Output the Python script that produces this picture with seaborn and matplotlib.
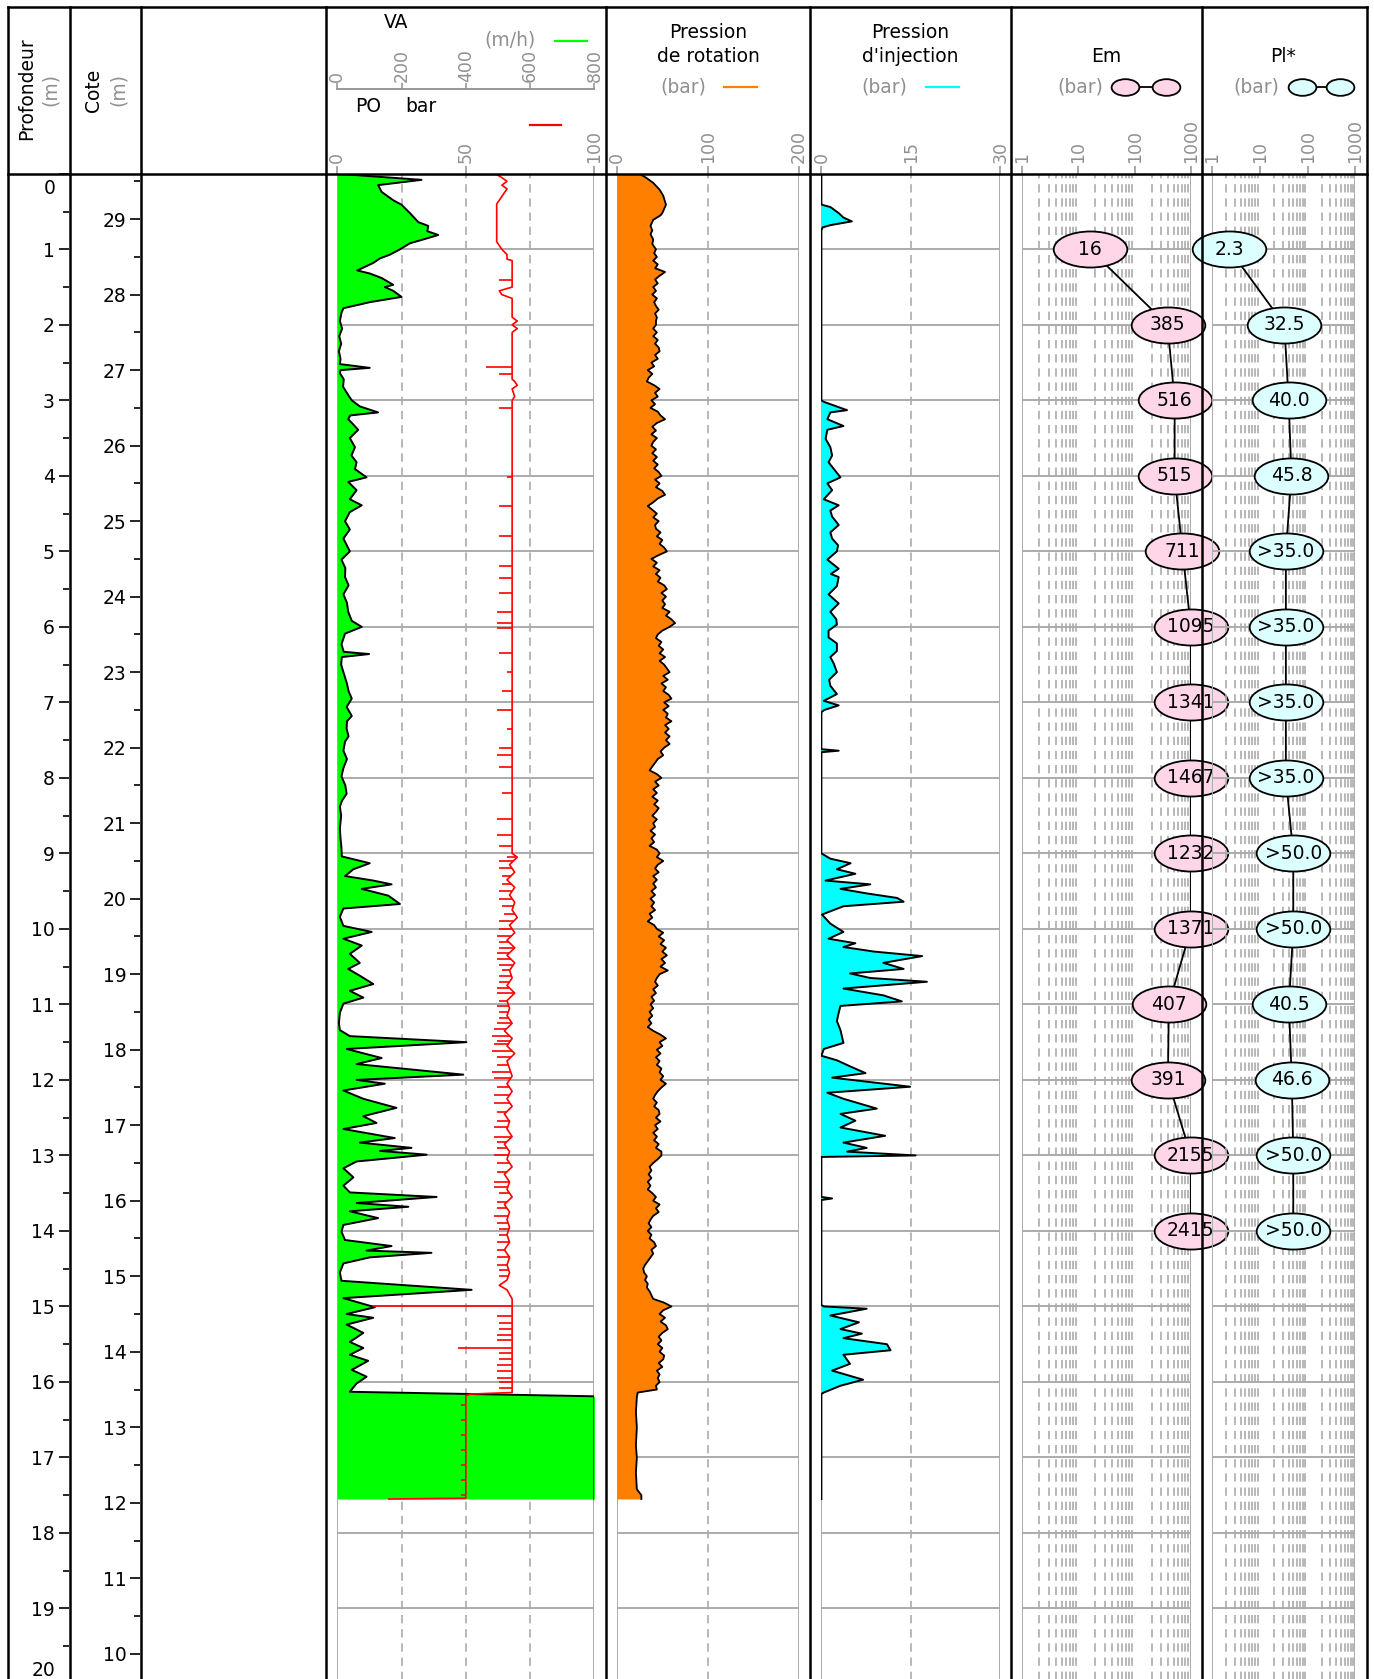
import numpy as np
import matplotlib
matplotlib.use("Agg")
import matplotlib.pyplot as plt
import seaborn as sns
from matplotlib.path import Path
from matplotlib.transforms import Affine2D
from matplotlib.ticker import MultipleLocator, NullFormatter, NullLocator

# -----------------------------
# DATA (read off the log)
# -----------------------------
cote_top = 29.6

va_depth = [0.00, 0.08, 0.15, 0.24, 0.35, 0.41, 0.52, 0.64, 0.69, 0.76, 0.81, 0.87, 0.92, 1.00, 1.07,
            1.12, 1.18, 1.28, 1.32, 1.38, 1.47, 1.50, 1.55, 1.63, 1.70, 1.78, 1.84, 1.95, 2.05, 2.15,
            2.25, 2.35, 2.45, 2.52, 2.57, 2.60, 2.64, 2.72, 2.82, 2.93, 3.00, 3.08, 3.16, 3.20, 3.25,
            3.32, 3.39, 3.50, 3.62, 3.73, 3.82, 3.91, 4.02, 4.08, 4.19, 4.31, 4.39, 4.48, 4.60, 4.71,
            4.83, 5.00, 5.11, 5.22, 5.34, 5.45, 5.57, 5.68, 5.80, 5.92, 6.00, 6.09, 6.23, 6.33, 6.36,
            6.40, 6.50, 6.60, 6.75, 6.85, 6.95, 7.06, 7.18, 7.25, 7.35, 7.45, 7.52, 7.64, 7.75, 7.87,
            7.98, 8.10, 8.21, 8.30, 8.38, 8.50, 8.67, 8.80, 8.93, 9.04, 9.13, 9.21, 9.30, 9.36, 9.41,
            9.47, 9.56, 9.67, 9.73, 9.84, 9.96, 10.04, 10.13, 10.22, 10.33, 10.45, 10.53, 10.62, 10.73,
            10.82, 10.91, 10.99, 11.11, 11.25, 11.34, 11.42, 11.50, 11.59, 11.71, 11.79, 11.93, 12.00,
            12.05, 12.14, 12.25, 12.37, 12.48, 12.57, 12.65, 12.77, 12.83, 12.90, 12.94, 12.99, 13.08,
            13.17, 13.29, 13.40, 13.49, 13.55, 13.63, 13.68, 13.74, 13.83, 13.92, 14.01, 14.12, 14.20,
            14.26, 14.29, 14.35, 14.43, 14.55, 14.66, 14.78, 14.89, 15.01, 15.10, 15.15, 15.24, 15.35,
            15.47, 15.55, 15.64, 15.72, 15.84, 15.93, 16.02, 16.13, 16.19, 17.55]
va_val = [0, 262, 127, 138, 174, 200, 226, 252, 283, 280, 314, 267, 226, 195, 164,
          133, 112, 62, 101, 138, 174, 148, 174, 200, 101, 19, 13, 8, 15, 6,
          12, 5, 10, 8, 101, 10, 8, 20, 18, 34, 45, 70, 127, 40, 34,
          50, 65, 39, 55, 44, 60, 55, 91, 34, 60, 39, 76, 39, 24, 39,
          19, 39, 13, 25, 24, 35, 19, 30, 34, 45, 76, 24, 13, 20, 99,
          14, 12, 19, 30, 35, 45, 29, 45, 30, 29, 35, 24, 19, 30, 19,
          13, 25, 29, 15, 8, 12, 8, 10, 13, 14, 101, 50, 24, 112, 169,
          76, 159, 195, 19, 8, 19, 107, 19, 76, 39, 70, 34, 70, 112,
          39, 81, 19, 8, 5, 8, 39, 402, 29, 138, 60, 392, 60,
          148, 19, 81, 184, 81, 122, 19, 179, 70, 231, 133, 278, 60,
          19, 50, 19, 39, 309, 60, 221, 39, 127, 19, 13, 24, 169,
          91, 293, 101, 19, 8, 13, 418, 19, 117, 29, 112, 29, 81,
          39, 81, 39, 96, 45, 91, 60, 39, 800, 800]

po_depth = [0.00, 0.01, 0.05, 0.10, 0.15, 0.20, 0.25, 0.30, 0.35, 0.40, 0.90, 0.95, 1.00, 1.07, 1.13,
            1.15, 1.50, 1.55, 1.60, 1.65, 1.90, 1.95, 2.00, 2.05, 2.10, 2.15, 2.72, 2.75, 2.80, 2.85,
            2.95, 3.00, 9.00, 9.05, 9.15, 9.25, 9.35, 9.45, 9.55, 9.65, 9.75, 9.85, 9.95, 10.05, 10.15,
            10.25, 10.35, 10.45, 10.55, 10.65, 10.75, 10.85, 10.95, 11.05, 11.15, 11.25, 11.35, 11.45,
            11.55, 11.65, 11.75, 11.85, 11.95, 12.05, 12.15, 12.25, 12.35, 12.45, 12.55, 12.65, 12.75,
            12.85, 12.95, 13.05, 13.15, 13.25, 13.35, 13.45, 13.55, 13.65, 13.75, 13.85, 13.95, 14.05,
            14.15, 14.25, 14.35, 14.45, 14.55, 14.65, 14.72, 14.78, 14.90, 16.14, 16.16, 16.18, 17.54,
            17.55]
po_val = [0, 62, 64, 66, 64, 66, 65, 64, 63, 62, 62, 63, 64, 66, 66,
          68, 68, 63, 64, 68, 68, 70, 68, 70, 68, 68, 68, 69, 70, 68,
          69, 68, 68, 70, 67, 69, 66, 69, 67, 69, 68, 70, 67, 69, 66,
          69, 66, 69, 67, 68, 66, 69, 66, 67, 66, 68, 65, 68,
          66, 69, 66, 67, 68, 66, 68, 66, 68, 65, 67, 66, 68,
          65, 67, 66, 68, 65, 67, 66, 68, 65, 67, 66, 67, 66,
          67, 65, 67, 66, 67, 66, 63, 66, 68, 68, 52, 50, 50,
          20]

po_spike_depth = [1.41, 2.56, 2.65, 3.10, 4.02, 4.40, 4.80, 5.20, 5.35, 5.55, 5.80, 5.95, 6.02, 6.35,
                  6.60, 6.85, 7.10, 7.35, 7.60, 7.70, 7.85, 8.20, 8.55, 8.75, 8.90, 9.05, 9.10, 9.20,
                  9.30, 9.40, 9.50, 9.60, 9.70, 9.80, 9.90, 10.00, 10.10, 10.18, 10.25, 10.32, 10.40,
                  10.48, 10.55, 10.62, 10.70, 10.78, 10.85, 10.95, 11.02, 11.10, 11.18, 11.25, 11.33,
                  11.42, 11.48, 11.52, 11.62, 11.70, 11.80, 11.90, 11.98, 12.10, 12.20, 12.30, 12.42,
                  12.55, 12.63, 12.75, 12.82, 12.90, 13.00, 13.10, 13.22, 13.35, 13.42, 13.50, 13.62,
                  13.70, 13.80, 13.90, 13.98, 14.05, 14.15, 14.25, 14.35, 14.45, 14.52, 14.60, 15.00,
                  15.12, 15.22, 15.30, 15.38, 15.45, 15.55, 15.62, 15.70, 15.78, 15.85, 15.95, 16.00,
                  16.08, 16.30, 16.50, 16.70, 16.90, 17.10, 17.30, 17.50]
po_spike_val = [63, 58, 63, 63, 66, 63, 63, 63, 63, 63, 62, 62, 62, 63,
                66, 64, 62, 66, 63, 62, 63, 64, 62, 62, 63, 66, 63, 63,
                64, 64, 63, 63, 64, 65, 63, 63, 62, 63, 63, 62, 62,
                63, 64, 63, 63, 62, 62, 63, 62, 63, 63, 62, 61,
                60, 62, 61, 60, 62, 62, 60, 61, 62, 61, 61, 62,
                62, 61, 61, 62, 62, 61, 62, 62, 61, 61, 63, 62,
                62, 61, 62, 63, 63, 62, 62, 62, 62, 63, 63, 14,
                62, 63, 63, 62, 62, 47, 63, 63, 62, 62, 62, 63,
                63, 48, 48, 48, 48, 48, 48, 48]

# rotation pressure: top metre read point by point, then every 5 cm from 1.00 m to 16.10 m
rot_top_depth = [0.00, 0.05, 0.12, 0.21, 0.29, 0.41, 0.52, 0.55, 0.61, 0.69, 0.75, 0.80, 0.87, 0.93]
rot_top_val = [25, 32, 40, 47, 51, 54, 50, 48, 40, 37, 39, 37, 40, 39]
rot_mid_val = [
    43, 41, 44, 40, 45, 42, 53, 47, 42, 45, 40, 43, 39, 44, 41, 43, 46, 42, 44, 43,
    43, 40, 44, 40, 45, 42, 46, 47, 42, 45, 38, 41, 34, 39, 35, 33, 41, 47, 42, 45,
    38, 42, 37, 45, 48, 53, 44, 39, 43, 38, 44, 40, 38, 43, 39, 44, 40, 45, 41, 46,
    49, 42, 47, 43, 50, 53, 45, 40, 34, 39, 44, 40, 46, 42, 43, 48, 44, 50, 47, 52,
    55, 46, 38, 44, 40, 47, 43, 48, 45, 52, 55, 49, 54, 50, 53, 50, 58, 54, 60, 64,
    58, 50, 45, 43, 49, 46, 51, 47, 53, 47, 52, 55, 58, 51, 56, 49, 54, 51, 57, 60,
    52, 57, 51, 56, 54, 60, 53, 57, 53, 58, 54, 58, 52, 48, 51, 45, 42, 39, 36, 44,
    49, 42, 46, 40, 44, 39, 45, 41, 46, 43, 39, 44, 40, 42, 37, 42, 38, 41, 36, 44,
    47, 44, 51, 45, 42, 46, 40, 44, 40, 43, 38, 42, 37, 41, 38, 42, 36, 39, 34, 41,
    44, 51, 46, 52, 48, 54, 50, 55, 49, 53, 48, 56, 47, 44, 42, 45, 40, 43, 38, 41,
    37, 40, 36, 39, 35, 38, 34, 40, 48, 54, 47, 50, 44, 48, 43, 47, 44, 49, 47, 51,
    48, 54, 49, 45, 42, 40, 44, 41, 46, 47, 43, 48, 42, 45, 40, 44, 41, 46, 43, 49,
    49, 45, 40, 36, 38, 35, 38, 34, 37, 34, 39, 43, 40, 47, 43, 46, 40, 37, 35, 38,
    34, 38, 36, 41, 43, 38, 40, 37, 34, 31, 29, 30, 33, 31, 34, 33, 36, 38, 40, 52,
    60, 51, 47, 53, 48, 54, 56, 50, 46, 49, 45, 50, 47, 52, 51, 46, 50, 44, 47, 45,
    47, 43, 44]
rot_mid_depth = np.round(1.0 + 0.05 * np.arange(len(rot_mid_val)), 2)
rot_end_depth = [16.14, 16.20, 16.40, 16.60, 16.84, 17.00, 17.20, 17.42, 17.50, 17.55]
rot_end_val = [23, 22, 21, 22, 21, 22, 21, 22, 27, 27]
rot_depth = list(rot_top_depth) + list(rot_mid_depth) + list(rot_end_depth)
rot_val = rot_top_val + rot_mid_val + rot_end_val

inj_depth = [0.00, 0.40, 0.41, 0.44, 0.52, 0.58, 0.63, 0.68, 0.71, 0.75, 3.00, 3.02, 3.13, 3.16, 3.25,
             3.34, 3.39, 3.51, 3.62, 3.73, 3.82, 3.91, 4.02, 4.10, 4.19, 4.31, 4.39, 4.46, 4.54, 4.65,
             4.75, 4.83, 4.92, 5.00, 5.11, 5.23, 5.30, 5.34, 5.46, 5.57, 5.69, 5.80, 5.90, 5.97, 6.05,
             6.14, 6.22, 6.32, 6.40, 6.49, 6.60, 6.70, 6.78, 6.89, 6.98, 7.04, 7.10, 7.13, 7.62, 7.64,
             7.66, 9.00, 9.07, 9.13, 9.21, 9.27, 9.36, 9.41, 9.47, 9.53, 9.59, 9.64, 9.70, 9.81, 9.93,
             10.04, 10.13, 10.19, 10.24, 10.30, 10.36, 10.45, 10.53, 10.59, 10.65, 10.70, 10.79, 10.88,
             10.96, 11.02, 11.11, 11.22, 11.34, 11.51, 11.59, 11.68, 11.74, 11.82, 11.91, 11.97, 12.09,
             12.17, 12.25, 12.38, 12.45, 12.54, 12.63, 12.74, 12.83, 12.90, 12.95, 13.00, 13.02, 13.55,
             13.57, 13.59, 14.98, 15.00, 15.03, 15.12, 15.21, 15.30, 15.36, 15.42, 15.50, 15.58, 15.64,
             15.76, 15.85, 15.97, 16.05, 16.14, 16.16, 17.55]
inj_val = [0, 0, 0.1, 1.5, 2.9, 3.7, 5.1, 1.5, 0.2, 0, 0, 0.4, 4.3, 1.5, 1.0,
           3.7, 1.0, 0.7, 1.5, 1.8, 1.2, 2.1, 3.2, 1.0, 1.8, 0.4, 2.9, 1.5, 1.8, 2.9,
           1.5, 1.8, 2.8, 2.6, 1.0, 2.9, 1.6, 2.9, 2.6, 1.2, 2.9, 1.5, 2.5, 2.6, 1.2,
           1.2, 2.6, 2.6, 1.5, 2.1, 2.6, 1.3, 1.5, 2.6, 0.4, 2.9, 0.5, 0, 0, 2.9,
           0, 0, 1.5, 4.9, 2.6, 5.7, 0.7, 8.2, 3.2, 7.6, 12.7, 13.8, 3.7, 0.1, 1.5,
           3.7, 1.2, 5.7, 3.7, 8.8, 16.9, 10.4, 13.8, 4.8, 8.2, 17.7, 3.7, 10.4,
           13.5, 3.2, 2.9, 2.6, 3.2, 3.7, 0.4, 0, 2.6, 4.8, 7.4, 1.8, 14.9,
           1.0, 3.7, 9.3, 3.2, 5.7, 3.2, 10.7, 3.7, 7.6, 4.3, 15.8, 0, 0,
           1.8, 0, 0, 0.4, 7.6, 1.5, 6.3, 3.2, 6.8, 3.7, 11.0, 11.6, 3.7,
           4.8, 1.8, 7.0, 3.2, 0.4, 0, 0]

pm_depth = [1, 2, 3, 4, 5, 6, 7, 8, 9, 10, 11, 12, 13, 14]
em_val = [16, 385, 516, 515, 711, 1095, 1341, 1467, 1232, 1371, 407, 391, 2155, 2415]
pl_val = [2.3, 32.5, 40.0, 45.8, 35.0, 35.0, 35.0, 35.0, 50.0, 50.0, 40.5, 46.6, 50.0, 50.0]
pl_label = ["2.3", "32.5", "40.0", "45.8", ">35.0", ">35.0", ">35.0", ">35.0",
            ">50.0", ">50.0", "40.5", "46.6", ">50.0", ">50.0"]

# -----------------------------
# FIGURE / LAYOUT (pixels)
# -----------------------------
W, H = 1374, 1679
TOP, BOT = 173.8, 1684.0
GRAY = "#909090"
GRID = "#ababab"
FS = 13.5
TFS = 12.5

fig = plt.figure(figsize=(W / 100, H / 100), dpi=100)


def box(x0, x1, y0=TOP, y1=BOT):
    return [x0 / W, 1 - y1 / H, (x1 - x0) / W, (y1 - y0) / H]


def track(x0, x1, xmin, xmax, ticks, dashed, log=False):
    ax = fig.add_axes(box(x0, x1))
    ax.set_facecolor("none")
    if log:
        ax.set_xscale("log")
    ax.set_xlim(xmin, xmax)
    ax.set_ylim(20, 0)
    for s in ax.spines.values():
        s.set_visible(False)
    ax.yaxis.set_major_locator(NullLocator())
    ax.yaxis.set_minor_locator(NullLocator())
    ax.xaxis.tick_top()
    ax.set_xticks(ticks, labels=[str(t) for t in ticks])
    ax.xaxis.set_minor_locator(NullLocator())
    ax.xaxis.set_minor_formatter(NullFormatter())
    ax.tick_params(axis="x", which="major", colors=GRAY, labelsize=TFS, labelrotation=90,
                   length=6, width=1.1, pad=1.5)
    for d in range(1, 20):
        ax.axhline(d, color=GRID, lw=1.4, zorder=0.5)
    for v in (xmin, xmax):
        ax.axvline(v, color=GRID, lw=1.4, zorder=0.5)
    for v in dashed:
        ax.axvline(v, color=GRID, lw=1.2, ls=(0, (5, 3.5)), zorder=0.5)
    ax.set_xlabel("")
    ax.set_ylabel("")
    return ax


# Depth and elevation scales
ax_d = fig.add_axes(box(68.6, 69.6))
ax_d.set_ylim(20, 0)
ax_c = fig.add_axes(box(140.4, 141.4))
ax_c.set_ylim(cote_top - 20, cote_top)
depth_major = list(range(0, 21))
cote_major = list(range(10, 30))
depth_labels = [""] + [str(m) for m in depth_major[1:-1]] + [""]
for ax, major, labels in ((ax_d, depth_major, depth_labels),
                          (ax_c, cote_major, [str(m) for m in cote_major])):
    ax.set_facecolor("none")
    for s in ax.spines.values():
        s.set_visible(False)
    ax.set_xticks([])
    ax.set_yticks(major, labels=labels)
    ax.yaxis.set_minor_locator(MultipleLocator(0.5))
    ax.tick_params(axis="y", which="major", length=7.5, width=1.2, labelsize=FS, pad=2.5)
    ax.tick_params(axis="y", which="minor", length=4.5, width=1.2)

# VA / PO track
ax_va = track(337.3, 594.4, 0, 800, [], [200, 400, 600])
ax_va.set_xticks([])
ax_va.fill_betweenx(va_depth, 0, va_val, color="#00ff00", lw=0, zorder=1)
sns.lineplot(x=va_val, y=va_depth, orient="y", estimator=None, sort=False,
             color="black", lw=1.4, ax=ax_va, zorder=2)
ax_va.set_xlim(0, 800)
ax_va.set_ylim(20, 0)

ax_po = ax_va.twiny()
ax_po.set_xlim(0, 100)
for s in ax_po.spines.values():
    s.set_visible(False)
ax_po.set_xticks([0, 50, 100], labels=["0", "50", "100"])
ax_po.tick_params(axis="x", colors=GRAY, labelsize=TFS, labelrotation=90, length=6, width=1.1, pad=1.5)
sns.lineplot(x=po_val, y=po_depth, orient="y", estimator=None, sort=False,
             color="#ff0000", lw=1.2, ax=ax_po, zorder=3)
po_base = np.interp(po_spike_depth, po_depth, po_val)
ax_po.hlines(po_spike_depth, po_spike_val, po_base, color="#ff0000", lw=1.2, zorder=3)
ax_po.set_xlim(0, 100)
ax_po.set_ylim(20, 0)
ax_po.set_xlabel("")
ax_po.set_ylabel("")

# VA top scale in header
ax_vt = fig.add_axes([337.3 / W, 1 - 89.3 / H, 257.1 / W, 1e-6])
ax_vt.set_facecolor("none")
ax_vt.set_xlim(0, 800)
for k, s in ax_vt.spines.items():
    s.set_visible(k == "top")
ax_vt.spines["top"].set_color(GRAY)
ax_vt.spines["top"].set_linewidth(1.3)
ax_vt.set_yticks([])
ax_vt.xaxis.tick_top()
ax_vt.set_xticks([0, 200, 400, 600, 800], labels=["0", "200", "400", "600", "800"])
ax_vt.tick_params(axis="x", colors=GRAY, labelsize=TFS, labelrotation=90, length=4, width=1.1, pad=1.5)

# Rotation pressure
ax_rot = track(616.8, 798.9, 0, 200, [0, 100, 200], [100])
ax_rot.fill_betweenx(rot_depth, 0, rot_val, color="#ff8000", lw=0, zorder=1)
sns.lineplot(x=rot_val, y=rot_depth, orient="y", estimator=None, sort=False,
             color="black", lw=1.3, ax=ax_rot, zorder=2)
ax_rot.set_xlim(0, 200)
ax_rot.set_ylim(20, 0)
ax_rot.set_xlabel("")
ax_rot.set_ylabel("")

# Injection pressure
ax_inj = track(821.4, 1000.2, 0, 30, [0, 15, 30], [15])
ax_inj.fill_betweenx(inj_depth, 0, inj_val, color="#00ffff", lw=0, zorder=1)
sns.lineplot(x=inj_val, y=inj_depth, orient="y", estimator=None, sort=False,
             color="black", lw=1.4, ax=ax_inj, zorder=2)
ax_inj.set_xlim(0, 30)
ax_inj.set_ylim(20, 0)
ax_inj.set_xlabel("")
ax_inj.set_ylabel("")

# Pressuremeter tracks
minor_log = [d * k for d in (1, 10, 100) for k in range(2, 10)]
ellipse = Path.unit_circle().transformed(Affine2D().scale(1, 0.49))
ellipse_small = Path.unit_circle().transformed(Affine2D().scale(1, 0.6))

for x0, x1, vals, labels, face in ((1022.3, 1190.8, em_val, [str(v) for v in em_val], "#ffd6e8"),
                                   (1212.0, 1355.5, pl_val, pl_label, "#dcffff")):
    ax = track(x0, x1, 1, 1000, [1, 10, 100, 1000], minor_log, log=True)
    xs = np.minimum(vals, 1000)
    sns.lineplot(x=xs, y=pm_depth, orient="y", estimator=None, sort=False,
                 color="black", lw=1.3, ax=ax, zorder=3)
    sns.scatterplot(x=xs, y=pm_depth, marker=ellipse, s=53 ** 2, color=face,
                    edgecolor="black", linewidth=1.3, ax=ax, zorder=4, clip_on=False)
    for xv, d, lab in zip(xs, pm_depth, labels):
        ax.text(xv, d, lab, ha="center", va="center", fontsize=FS, zorder=5, clip_on=False)
    ax.set_xlim(1, 1000)
    ax.set_ylim(20, 0)
    ax.set_xlabel("")
    ax.set_ylabel("")

# -----------------------------
# FRAME AND HEADER
# -----------------------------
ov = fig.add_axes([0, 0, 1, 1], zorder=10)
ov.set_xlim(0, W)
ov.set_ylim(H, 0)
ov.axis("off")
ov.set_facecolor("none")

lw_b = 1.8
ov.plot([7.5, 7.5], [6.5, H + 5], color="black", lw=lw_b)
ov.plot([1367, 1367], [6.5, H + 5], color="black", lw=lw_b)
ov.plot([7.5, 1367], [6.5, 6.5], color="black", lw=lw_b)
ov.plot([7.5, 1367], [TOP, TOP], color="black", lw=lw_b)
for xb in (69.6, 141.4, 325.6, 606.1, 809.6, 1011.3, 1201.8):
    ov.plot([xb, xb], [6.5, H + 5], color="black", lw=lw_b)

# end labels of the depth scale, kept inside the log
ov.text(55.5, 188, str(depth_major[0]), ha="right", va="center", fontsize=FS)
ov.text(55.5, 1670, str(depth_major[-1]), ha="right", va="center", fontsize=FS)

txt = dict(ha="center", va="center", fontsize=FS)
ov.text(27, 89, "Profondeur", rotation=90, color="black", **txt)
ov.text(50.5, 89, "(m)", rotation=90, color=GRAY, **txt)
ov.text(93, 90, "Cote", rotation=90, color="black", **txt)
ov.text(118.5, 90, "(m)", rotation=90, color=GRAY, **txt)

ov.text(396, 22, "VA", color="black", **txt)
ov.text(510, 40, "(m/h)", color=GRAY, **txt)
ov.plot([555, 587], [41, 41], color="#00ff00", lw=1.6)
ov.text(368, 107, "PO", color="black", **txt)
ov.text(421, 107, "bar", color="black", **txt)
ov.plot([530, 561], [125, 125], color="#ff0000", lw=1.6)

ov.text(708, 32, "Pression", color="black", **txt)
ov.text(708, 57, "de rotation", color="black", **txt)
ov.text(683, 87, "(bar)", color=GRAY, **txt)
ov.plot([724, 757], [87, 87], color="#ff8000", lw=1.6)

ov.text(910, 32, "Pression", color="black", **txt)
ov.text(910, 57, "d'injection", color="black", **txt)
ov.text(884, 87, "(bar)", color=GRAY, **txt)
ov.plot([926, 959], [87, 87], color="#00ffff", lw=1.6)

ov.text(1106, 57, "Em", color="black", **txt)
ov.text(1080, 87, "(bar)", color=GRAY, **txt)
ov.plot([1125, 1166], [87, 87], color="black", lw=1.3)
ov.scatter([1125, 1166], [87, 87], marker=ellipse_small, s=20 ** 2, color="#ffd6e8",
           edgecolor="black", linewidth=1.3, zorder=3)

ov.text(1283, 57, "Pl*", color="black", **txt)
ov.text(1256, 87, "(bar)", color=GRAY, **txt)
ov.plot([1302, 1340], [87, 87], color="black", lw=1.3)
ov.scatter([1302, 1340], [87, 87], marker=ellipse_small, s=20 ** 2, color="#dcffff",
           edgecolor="black", linewidth=1.3, zorder=3)

fig.savefig("out.png", dpi=100)
